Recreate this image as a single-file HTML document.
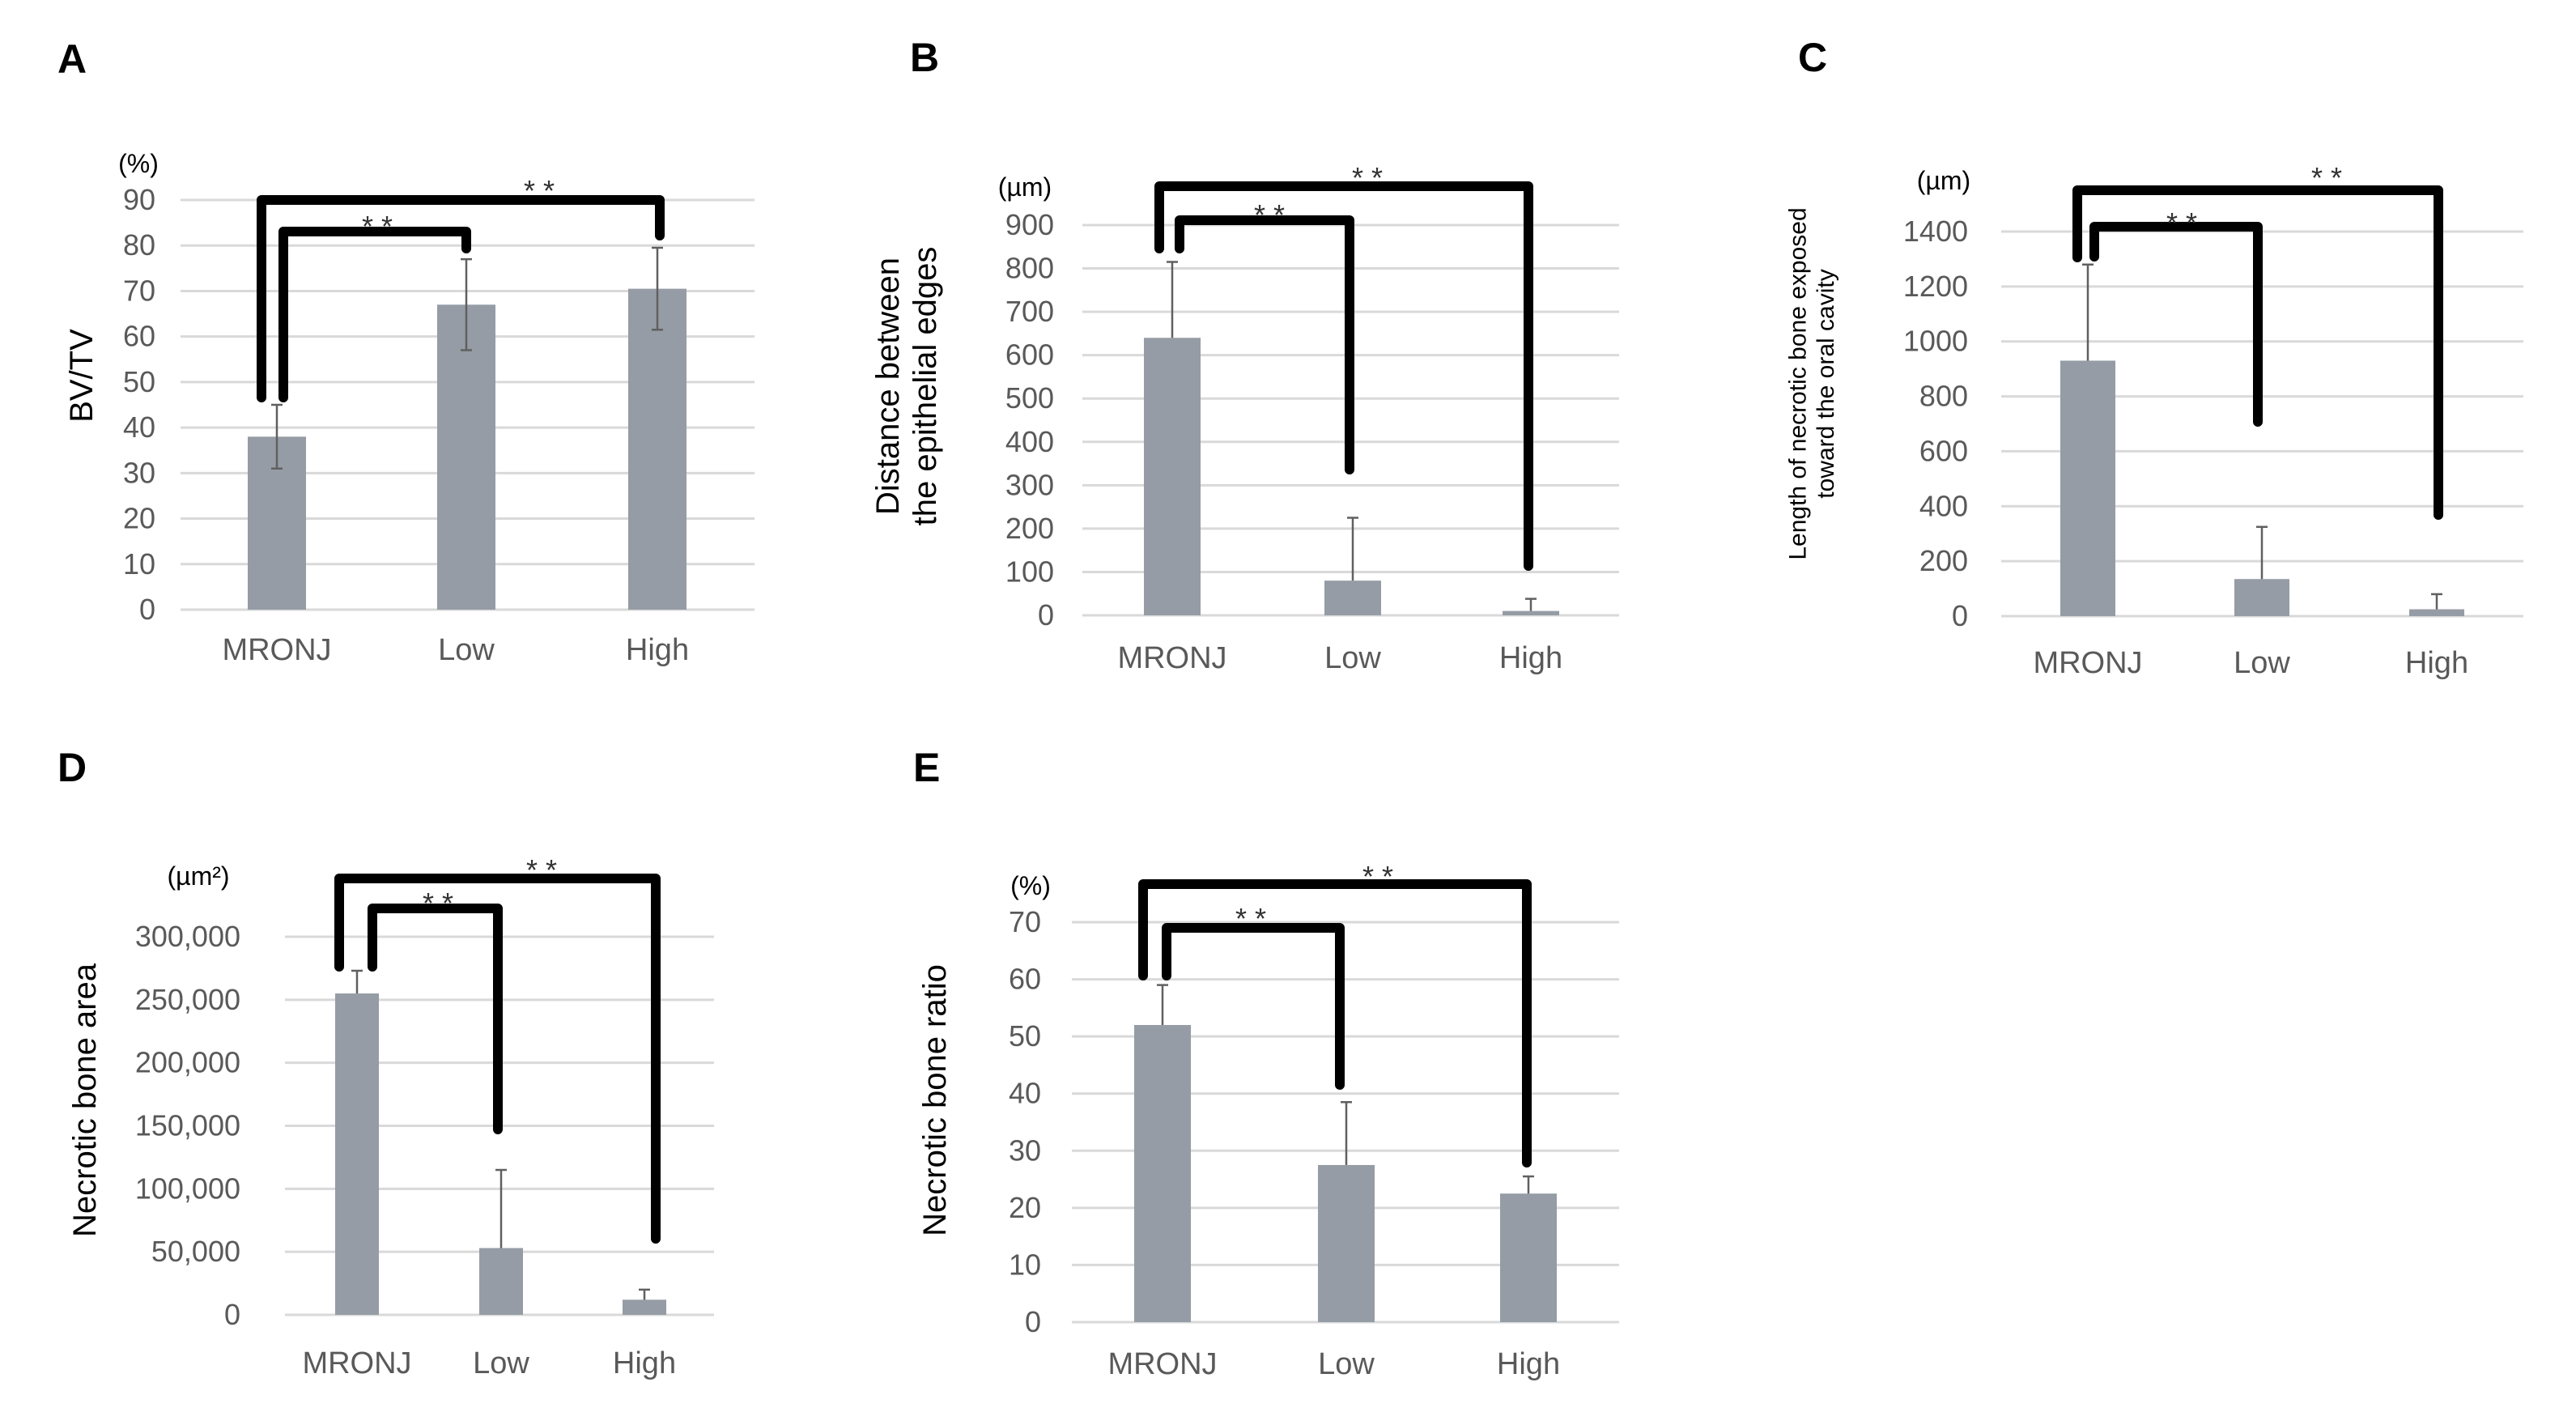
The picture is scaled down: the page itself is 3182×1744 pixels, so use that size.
<!DOCTYPE html>
<html><head><meta charset="utf-8"><style>
html,body{margin:0;padding:0;background:#fff;}
svg{display:block;}
text{font-family:"Liberation Sans",sans-serif;}
</style></head><body>
<svg id="fig" width="3182" height="1744" viewBox="0 0 3182 1744"></svg>
<script>
// ---- data ----
const categories = ["MRONJ","Low","High"];
const valuesA = [38, 67, 70.5];
const errorsA = [7, 10, 9];
const ticksA = [0,10,20,30,40,50,60,70,80,90];
const valuesB = [640, 80, 10];
const errorsB = [175, 145, 28];
const ticksB = [0,100,200,300,400,500,600,700,800,900];
const valuesC = [930, 135, 25];
const errorsC = [350, 190, 55];
const ticksC = [0,200,400,600,800,1000,1200,1400];
const tickLabelsC = ["0","200","400","600","800","1000","1200","1400"];
const valuesD = [255000, 53000, 12000];
const errorsD = [18000, 62000, 8000];
const ticksD = [0,50000,100000,150000,200000,250000,300000];
const tickLabelsD = ["0","50,000","100,000","150,000","200,000","250,000","300,000"];
const valuesE = [52, 27.5, 22.5];
const errorsE = [7, 11, 3];
const ticksE = [0,10,20,30,40,50,60,70];

const NS="http://www.w3.org/2000/svg";
const svg=document.getElementById('fig');
function mk(tag,attrs,parent){const e=document.createElementNS(NS,tag);for(const k in attrs)e.setAttribute(k,attrs[k]);(parent||svg).appendChild(e);return e;}

const panels=[
 {id:'a',letter:'A',lx:71,ly:90,vals:valuesA,errs:errorsA,ticks:ticksA,tickLabels:ticksA.map(String),ymax:90,
  y0:753,yTop:247,gx0:223,gx1:932,barX:[306,540,776],barW:72,both:true,unit:'(%)',ux:171,uy:213,tickR:192,
  title:['BV/TV'],tx:100,ty:464,tfs:40,catY:815,
  outer:{top:247,lx:323,ly:491,rx:815,ry:291,sx:666,sy:238},inner:{top:286,lx:350,ly:491,rx:576,ry:307,sx:466,sy:282}},
 {id:'b',letter:'B',lx:1124,ly:88,vals:valuesB,errs:errorsB,ticks:ticksB,tickLabels:ticksB.map(String),ymax:900,
  y0:760,yTop:278,gx0:1337,gx1:2000,barX:[1413,1636,1856],barW:70,both:false,unit:'(µm)',ux:1266,uy:242,tickR:1302,
  title:['Distance between','the epithelial edges'],tx:1112,ty:477,tfs:40,catY:825,
  outer:{top:230,lx:1432,ly:307,rx:1888,ry:699,sx:1689,sy:222},inner:{top:272,lx:1457,ly:307,rx:1667,ry:580,sx:1568,sy:268}},
 {id:'c',letter:'C',lx:2221,ly:88,vals:valuesC,errs:errorsC,ticks:ticksC,tickLabels:tickLabelsC,ymax:1400,
  y0:761,yTop:286,gx0:2472,gx1:3117,barX:[2545,2760,2976],barW:68,both:false,unit:'(µm)',ux:2401,uy:234,tickR:2431,
  title:['Length of necrotic bone exposed','toward the oral cavity'],tx:2232,ty:474,tfs:30,catY:831,
  outer:{top:235,lx:2566,ly:318,rx:3012,ry:636,sx:2874,sy:222},inner:{top:280,lx:2587,ly:317,rx:2789,ry:521,sx:2695,sy:278}},
 {id:'d',letter:'D',lx:71,ly:965,vals:valuesD,errs:errorsD,ticks:ticksD,tickLabels:tickLabelsD,ymax:300000,
  y0:1624,yTop:1157,gx0:352,gx1:882,barX:[414,592,769],barW:54,both:false,unit:'(µm²)',ux:245,uy:1093,tickR:297,
  title:['Necrotic bone area'],tx:104,ty:1359,tfs:40,catY:1696,
  outer:{top:1085,lx:419,ly:1194,rx:810,ry:1530,sx:669,sy:1077},inner:{top:1122,lx:460,ly:1194,rx:615,ry:1395,sx:541,sy:1118}},
 {id:'e',letter:'E',lx:1128,ly:965,vals:valuesE,errs:errorsE,ticks:ticksE,tickLabels:ticksE.map(String),ymax:70,
  y0:1633,yTop:1139,gx0:1324,gx1:2000,barX:[1401,1628,1853],barW:70,both:false,unit:'(%)',ux:1273,uy:1105,tickR:1286,
  title:['Necrotic bone ratio'],tx:1154,ty:1359,tfs:40,catY:1697,
  outer:{top:1092,lx:1412,ly:1205,rx:1886,ry:1436,sx:1702,sy:1085},inner:{top:1146,lx:1441,ly:1205,rx:1655,ry:1340,sx:1545,sy:1137}}
];

panels.forEach(p=>{
  const g=mk('g',{});
  
  
  const y=v=>p.y0-(v/p.ymax)*(p.y0-p.yTop);
  const L=mk('text',{x:p.lx,y:p.ly,'font-size':50,'font-weight':'bold',fill:'#000'},g);
  L.textContent=p.letter;
  
  
  p.ticks.forEach((t,i)=>{
    const gl=mk('line',{x1:p.gx0,x2:p.gx1,y1:y(t),y2:y(t),stroke:'#d9d9d9','stroke-width':3},g);
    
    
    const tl=mk('text',{x:p.tickR,y:y(t)+12,'font-size':36,fill:'#595959','text-anchor':'end'},g);
    tl.textContent=p.tickLabels[i];
    
    
  });
  const u=mk('text',{x:p.ux,y:p.uy,'font-size':32,fill:'#000','text-anchor':'middle'},g);
  u.textContent=p.unit;
  
  
  const tt=mk('text',{transform:`translate(${p.tx},${p.ty}) rotate(-90)`,'font-size':p.tfs,fill:'#000','text-anchor':'middle'},g);
  
  
  p.title.forEach((s,i)=>{const ts=mk('tspan',{x:0,dy:i===0?(p.title.length>1?-p.tfs*0.05:p.tfs*0.35):p.tfs*1.15},tt);ts.textContent=s;});
  p.vals.forEach((v,i)=>{
    const cx=p.barX[i]+p.barW/2;
    const r=mk('rect',{x:p.barX[i],y:y(v),width:p.barW,height:p.y0-y(v),fill:'#959ca5'},g);
    
    
    const top=y(v+p.errs[i]), bot=p.both?y(v-p.errs[i]):y(v);
    const el=mk('path',{d:`M${cx},${top}V${bot}M${cx-7},${top}H${cx+7}`+(p.both?`M${cx-7},${bot}H${cx+7}`:''),stroke:'#606060','stroke-width':2.5,fill:'none'},g);
    
    
    const c=mk('text',{x:cx,y:p.catY,'font-size':38,fill:'#595959','text-anchor':'middle'},g);
    c.textContent=categories[i];
    
    
  });
  [p.outer,p.inner].forEach(b=>{
    const br=mk('path',{d:`M${b.lx},${b.ly}V${b.top}H${b.rx}V${b.ry}`,stroke:'#000','stroke-width':12,fill:'none','stroke-linejoin':'round','stroke-linecap':'round'},g);
    
    
    const s=mk('text',{x:b.sx,y:b.sy+10,'font-size':36,fill:'#333','text-anchor':'middle'},g);
    s.textContent='* *';
    
    
  });
});
</script>
</body></html>
